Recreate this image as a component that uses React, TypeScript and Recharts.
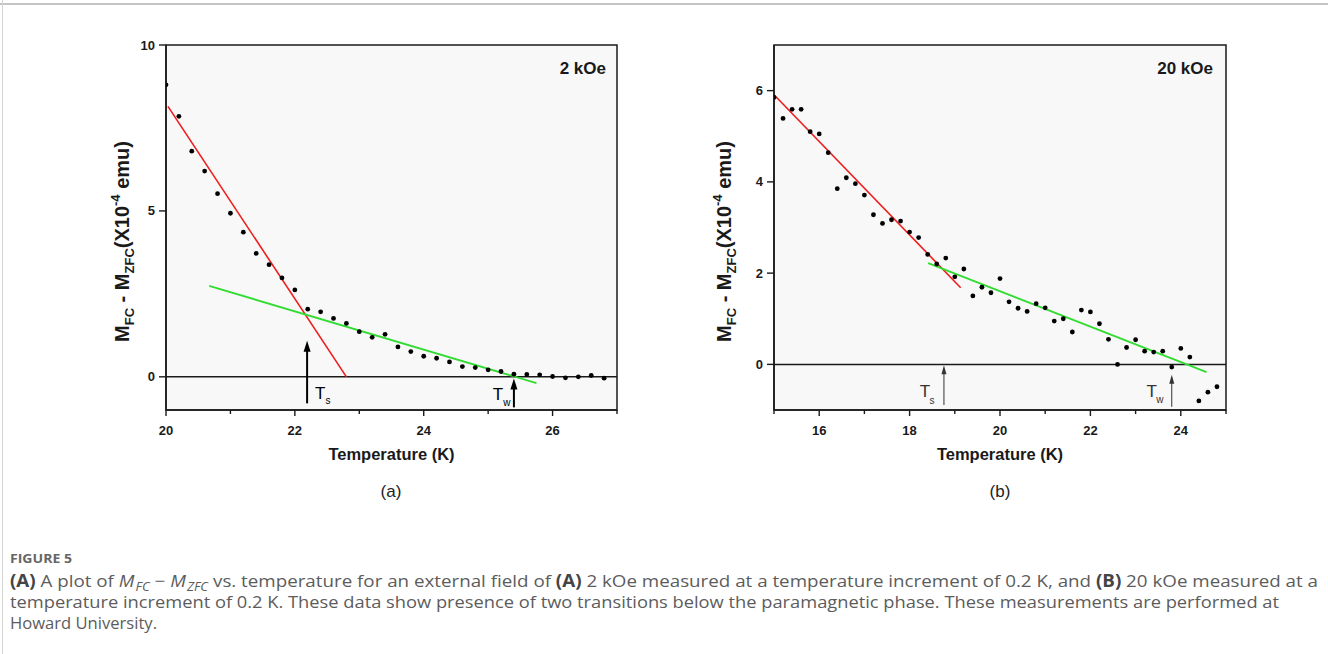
import React from "react";
import {
  ScatterChart,
  Scatter,
  XAxis,
  YAxis,
  CartesianGrid,
  ReferenceLine,
  ReferenceArea,
} from "recharts";

const FONT = "'Liberation Sans', Arial, Helvetica, sans-serif";
const CAP_FONT = "'Open Sans', 'Noto Sans', sans-serif";
const INK = "#1a1a1a";
const RED = "#ee1d1d";
const GREEN = "#30dc30";

// (a) 2 kOe, T step 0.2 K
const tempA = [
  20.0, 20.2, 20.4, 20.6, 20.8, 21.0, 21.2, 21.4, 21.6, 21.8, 22.0, 22.2, 22.4,
  22.6, 22.8, 23.0, 23.2, 23.4, 23.6, 23.8, 24.0, 24.2, 24.4, 24.6, 24.8, 25.0,
  25.2, 25.4, 25.6, 25.8, 26.0, 26.2, 26.4, 26.6, 26.8,
];
const momentA = [
  8.8, 7.85, 6.8, 6.2, 5.52, 4.93, 4.36, 3.72, 3.38, 2.98, 2.62, 2.04, 1.96,
  1.76, 1.61, 1.36, 1.19, 1.28, 0.9, 0.76, 0.62, 0.56, 0.45, 0.31, 0.28, 0.21,
  0.16, 0.08, 0.07, 0.06, 0.01, -0.03, 0.0, 0.04, -0.04,
];

// (b) 20 kOe
const tempB = [
  15.0, 15.2, 15.4, 15.6, 15.8, 16.0, 16.2, 16.4, 16.6, 16.8, 17.0, 17.2, 17.4,
  17.6, 17.8, 18.0, 18.2, 18.4, 18.6, 18.8, 19.0, 19.2, 19.4, 19.6, 19.8, 20.0,
  20.2, 20.4, 20.6, 20.8, 21.0, 21.2, 21.4, 21.6, 21.8, 22.0, 22.2, 22.4, 22.6,
  22.8, 23.0, 23.2, 23.4, 23.6, 23.8, 24.0, 24.2, 24.4, 24.6, 24.8,
];
const momentB = [
  5.85, 5.39, 5.59, 5.59, 5.1, 5.05, 4.64, 3.85, 4.09, 3.96, 3.71, 3.28, 3.09,
  3.17, 3.14, 2.9, 2.78, 2.41, 2.2, 2.33, 1.92, 2.09, 1.5, 1.69, 1.57, 1.88,
  1.37, 1.23, 1.16, 1.33, 1.24, 0.95, 1.0, 0.71, 1.19, 1.15, 0.89, 0.55, 0.0,
  0.37, 0.54, 0.29, 0.27, 0.29, -0.06, 0.35, 0.16, -0.8, -0.61, -0.49,
];

// linear fits (end points)
const redFitA = [
  { x: 20.03, y: 8.15 },
  { x: 22.8, y: 0 },
];
const greenFitA = [
  { x: 20.67, y: 2.74 },
  { x: 25.75, y: -0.19 },
];
const redFitB = [
  { x: 15.0, y: 5.91 },
  { x: 19.13, y: 1.68 },
];
const greenFitB = [
  { x: 18.41, y: 2.22 },
  { x: 24.57, y: -0.17 },
];

const ticksA = [20, 21, 22, 23, 24, 25, 26, 27];
const ticksB = [15, 16, 17, 18, 19, 20, 21, 22, 23, 24, 25];
const yTicksA = [0, 5, 10];
const yTicksB = [0, 2, 4, 6];

type Arrow = {
  t: number;
  from: number;
  to: number;
  sub: string;
  tdx: number;
  tdy: number;
  sdx: number;
  sdy: number;
};
type ArrowStyle = { width: number; head: number; half: number; color: string; font: number };

const arrowsA: Arrow[] = [
  { t: 22.19, from: -0.8, to: 1.09, sub: "s", tdx: 13, tdy: -4, sdx: 21, sdy: 1 },
  { t: 25.4, from: -0.92, to: -0.05, sub: "w", tdx: -16, tdy: -7, sdx: -7, sdy: -1 },
];
const arrowsB: Arrow[] = [
  { t: 18.76, from: -0.89, to: -0.02, sub: "s", tdx: -19, tdy: -8, sdx: -12, sdy: -1 },
  { t: 23.8, from: -0.93, to: -0.23, sub: "w", tdx: -20, tdy: -10, sdx: -12, sdy: -4 },
];

const zip = (ts: number[], ms: number[]) => ts.map((t, i) => ({ t, m: ms[i] }));

const XTick = (p: any) => {
  const major = p.payload.value % 2 === 0;
  return (
    <g>
      <line x1={p.x} x2={p.x} y1={p.y} y2={p.y + (major ? 6 : 4)} stroke={INK} strokeWidth={1.4} />
      {major && (
        <text x={p.x} y={p.y + 25} textAnchor="middle" fontSize={13} fontWeight="bold" fill={INK} fontFamily={FONT}>
          {p.payload.value}
        </text>
      )}
    </g>
  );
};

const YTick = (p: any) => (
  <g>
    <line x1={p.x - 7} x2={p.x} y1={p.y} y2={p.y} stroke={INK} strokeWidth={1.4} />
    <text x={p.x - 11} y={p.y + 4.5} textAnchor="end" fontSize={13} fontWeight="bold" fill={INK} fontFamily={FONT}>
      {p.payload.value}
    </text>
  </g>
);

const XTitle = (p: any) => {
  const vb = p.viewBox || {};
  return (
    <text x={vb.x + vb.width / 2} y={vb.y + 50} textAnchor="middle" fontSize={16.5} fontWeight="bold" fill={INK} fontFamily={FONT}>
      Temperature (K)
    </text>
  );
};

const YTitle = (p: any) => {
  const vb = p.viewBox || {};
  const cx = vb.x + vb.width - p.gap;
  const cy = vb.y + vb.height / 2 + 14;
  return (
    <text
      x={cx}
      y={cy}
      transform={`rotate(-90, ${cx}, ${cy})`}
      textAnchor="middle"
      fontSize={20}
      fontWeight="bold"
      fill={INK}
      fontFamily={FONT}
    >
      <tspan>M</tspan>
      <tspan fontSize={13} dy={5}>FC</tspan>
      <tspan dy={-5}>{" - M"}</tspan>
      <tspan fontSize={13} dy={5}>ZFC</tspan>
      <tspan dy={-5}>(X10</tspan>
      <tspan fontSize={13} dy={-9}>-4</tspan>
      <tspan dy={9}>{" emu)"}</tspan>
    </text>
  );
};

const FieldLabel = (p: any) => {
  const vb = p.viewBox || {};
  return (
    <text x={vb.x + vb.width - p.inset} y={vb.y + 29} textAnchor="end" fontSize={17} fontWeight="bold" fill={INK} fontFamily={FONT}>
      {p.text}
    </text>
  );
};

const makeArrow = (a: Arrow, s: ArrowStyle) => (p: any) => {
  const x = p.x1;
  const tail = Math.max(p.y1, p.y2);
  const tip = Math.min(p.y1, p.y2);
  return (
    <g>
      <line x1={x} x2={x} y1={tail} y2={tip + s.head - 1} stroke={s.color} strokeWidth={s.width} />
      <polygon points={`${x},${tip} ${x - s.half},${tip + s.head} ${x + s.half},${tip + s.head}`} fill={s.color} />
      <text x={x + a.tdx} y={tail + a.tdy} fontSize={s.font} textAnchor="middle" fill={s.color} fontFamily={FONT}>
        T
      </text>
      <text x={x + a.sdx} y={tail + a.sdy} fontSize={10} textAnchor="middle" fill={s.color} fontFamily={FONT}>
        {a.sub}
      </text>
    </g>
  );
};

const Dot = (p: any) => <circle cx={p.cx} cy={p.cy} r={2.4} fill="#000" />;

function Panel(props: any) {
  const { margin, xDomain, xTicks, yDomain, yTicks, points, redFit, greenFit, arrows, arrowStyle, field, inset, gap } = props;
  return (
    <ScatterChart width={600} height={480} margin={margin}>
      <CartesianGrid horizontal={false} vertical={false} fill="#f8f8f8" />
      <XAxis
        type="number"
        dataKey="t"
        domain={xDomain}
        ticks={xTicks}
        interval={0}
        allowDataOverflow
        tickSize={0}
        tickMargin={0}
        tickLine={false}
        axisLine={{ stroke: INK, strokeWidth: 1.5 }}
        tick={XTick}
        height={50}
        label={<XTitle />}
      />
      <YAxis
        type="number"
        dataKey="m"
        domain={yDomain}
        ticks={yTicks}
        interval={0}
        allowDataOverflow
        tickSize={0}
        tickMargin={0}
        tickLine={false}
        axisLine={{ stroke: INK, strokeWidth: 1.5 }}
        tick={YTick}
        width={50}
        label={<YTitle gap={gap} />}
      />
      <ReferenceArea
        x1={xDomain[0]}
        x2={xDomain[1]}
        y1={yDomain[0]}
        y2={yDomain[1]}
        fill="none"
        stroke={INK}
        strokeWidth={1.5}
        label={<FieldLabel text={field} inset={inset} />}
      />
      <ReferenceLine y={0} stroke={INK} strokeWidth={1.5} />
      <ReferenceLine segment={redFit} stroke={RED} strokeWidth={1.6} />
      <ReferenceLine segment={greenFit} stroke={GREEN} strokeWidth={1.8} />
      {arrows.map((a: Arrow, i: number) => (
        <ReferenceLine
          key={i}
          segment={[
            { x: a.t, y: a.from },
            { x: a.t, y: a.to },
          ]}
          stroke={arrowStyle.color}
          shape={makeArrow(a, arrowStyle)}
        />
      ))}
      <Scatter data={points} shape={Dot} isAnimationActive={false} />
    </ScatterChart>
  );
}

const sub = { fontSize: 12 };

export default function App() {
  return (
    <div style={{ position: "absolute", left: 0, top: 0, width: 1328, height: 654, background: "#fff", overflow: "hidden", fontFamily: FONT }}>
      <div style={{ position: "absolute", left: 0, top: 3, width: 1328, height: 2, background: "#c4c4c4" }} />
      <div style={{ position: "absolute", left: 2, top: 0, width: 1, height: 654, background: "#d4d4d4" }} />

      <div style={{ position: "absolute", left: 60, top: 0 }}>
        <Panel
          margin={{ top: 45, right: 43, bottom: 20, left: 56 }}
          xDomain={[20, 27]}
          xTicks={ticksA}
          yDomain={[-1, 10]}
          yTicks={yTicksA}
          points={zip(tempA, momentA)}
          redFit={redFitA}
          greenFit={greenFitA}
          arrows={arrowsA}
          arrowStyle={{ width: 2, head: 11, half: 3.5, color: "#000", font: 17 }}
          field="2 kOe"
          inset={11}
          gap={37}
        />
      </div>
      <div style={{ position: "absolute", left: 670, top: 0 }}>
        <Panel
          margin={{ top: 45, right: 44, bottom: 20, left: 54 }}
          xDomain={[15, 25]}
          xTicks={ticksB}
          yDomain={[-1, 7]}
          yTicks={yTicksB}
          points={zip(tempB, momentB)}
          redFit={redFitB}
          greenFit={greenFitB}
          arrows={arrowsB}
          arrowStyle={{ width: 1, head: 9, half: 2.5, color: "#333", font: 17 }}
          field="20 kOe"
          inset={13}
          gap={43}
        />
      </div>

      <div style={{ position: "absolute", left: 391, top: 482, transform: "translateX(-50%)", fontSize: 17, color: "#222" }}>(a)</div>
      <div style={{ position: "absolute", left: 1000, top: 482, transform: "translateX(-50%)", fontSize: 17, color: "#222" }}>(b)</div>

      <svg width={1328} height={114} style={{ position: "absolute", left: 0, top: 540 }} fontFamily={CAP_FONT}>
        <text x={10} y={23} textLength={62} lengthAdjust="spacingAndGlyphs" fontSize={13} fontWeight={700} fill="#666">
          FIGURE 5
        </text>
        <text x={10} y={47} textLength={1308} lengthAdjust="spacingAndGlyphs" fontSize={17} fill="#5c5c5c">
          <tspan fontWeight={700} fill="#444">(A)</tspan>
          <tspan>{" A plot of "}</tspan>
          <tspan fontStyle="italic">M</tspan>
          <tspan fontStyle="italic" {...sub} dx={1} dy={4}>FC</tspan>
          <tspan dy={-4}>{" \u2212 "}</tspan>
          <tspan fontStyle="italic">M</tspan>
          <tspan fontStyle="italic" {...sub} dx={1} dy={4}>ZFC</tspan>
          <tspan dy={-4}>{" vs. temperature for an external field of "}</tspan>
          <tspan fontWeight={700} fill="#444">(A)</tspan>
          <tspan>{" 2 kOe measured at a temperature increment of 0.2 K, and "}</tspan>
          <tspan fontWeight={700} fill="#444">(B)</tspan>
          <tspan>{" 20 kOe measured at a"}</tspan>
        </text>
        <text x={10} y={68} textLength={1269} lengthAdjust="spacingAndGlyphs" fontSize={17} fill="#5c5c5c">
          temperature increment of 0.2 K. These data show presence of two transitions below the paramagnetic phase. These measurements are performed at
        </text>
        <text x={10} y={89} textLength={147} lengthAdjust="spacingAndGlyphs" fontSize={17} fill="#5c5c5c">
          Howard University.
        </text>
      </svg>
    </div>
  );
}
